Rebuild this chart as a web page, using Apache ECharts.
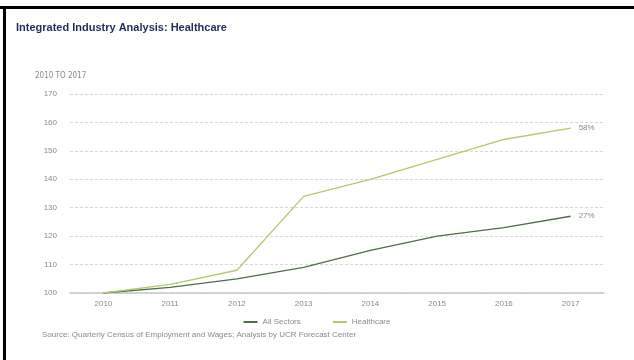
<!DOCTYPE html>
<html>
<head>
<meta charset="utf-8">
<script src="https://cdn.jsdelivr.net/npm/echarts@6/dist/echarts.min.js"></script>
<style>
html,body{margin:0;padding:0;background:#fff;}
#c{width:634px;height:360px;}
</style>
</head>
<body>
<div id="c"></div>
<script>
const years = ['2010','2011','2012','2013','2014','2015','2016','2017'];
const allSectors = [100, 102, 105, 109, 115, 120, 123, 127];
const healthcare = [100, 103, 108, 134, 140, 147, 154, 158];
const endLabels = {allSectors: '27%', healthcare: '58%'};

const chart = echarts.init(document.getElementById('c'));
function endLabel(txt){
  return {show:true, formatter: txt, color:'#8a8a8a', fontSize:8, distance:8, fontFamily:'Liberation Sans'};
}
chart.setOption({
  animation:false,
  backgroundColor:'#fff',
  title:[{
    text:'Integrated Industry Analysis: Healthcare',
    left:16, top:22, padding:0,
    textStyle:{color:'#1f2d5c', fontSize:11, fontWeight:'bold', fontFamily:'Liberation Sans'}
  },{
    text:'2010 TO 2017',
    left:35, top:72, padding:0,
    textStyle:{color:'#8a8a8a', fontSize:8, fontWeight:'normal', fontFamily:'"DejaVu Sans Condensed","Liberation Sans",sans-serif'}
  },{
    text:'Source: Quarterly Census of Employment and Wages; Analysis by UCR Forecast Center',
    left:42, top:331, padding:0,
    textStyle:{color:'#8a8a8a', fontSize:8, fontWeight:'normal', fontFamily:'Liberation Sans'}
  }],
  graphic:[
    {type:'rect', shape:{x:0,y:6,width:634,height:3}, style:{fill:'#000'}},
    {type:'rect', shape:{x:3,y:6,width:3,height:354}, style:{fill:'#000'}}
  ],
  legend:{
    top:313, left:'center',
    itemWidth:14, itemHeight:2, itemGap:32,
    icon:'rect',
    textStyle:{color:'#8a8a8a', fontSize:8, fontFamily:'Liberation Sans'},
    data:['All Sectors','Healthcare']
  },
  grid:{left:70, right:30, top:94, bottom:67},
  xAxis:{
    type:'category', data:years, boundaryGap:true,
    axisLine:{show:true, lineStyle:{color:'#c8c8c8', width:1.5}},
    axisTick:{show:false},
    axisLabel:{color:'#8a8a8a', fontSize:8, margin:7, fontFamily:'Liberation Sans'}
  },
  yAxis:{
    type:'value', min:100, max:170, interval:10,
    axisLine:{show:false}, axisTick:{show:false},
    axisLabel:{color:'#8a8a8a', fontSize:8, margin:13, fontFamily:'Liberation Sans'},
    splitLine:{show:true, lineStyle:{color:'#d8d8d8', type:[3,2], width:1}}
  },
  series:[{
    name:'All Sectors', type:'line', data:allSectors, symbol:'none',
    lineStyle:{color:'#4e6e48', width:1.3}, itemStyle:{color:'#4e6e48'},
    endLabel:endLabel(endLabels.allSectors)
  },{
    name:'Healthcare', type:'line', data:healthcare, symbol:'none',
    lineStyle:{color:'#b3c96a', width:1.3}, itemStyle:{color:'#b3c96a'},
    endLabel:endLabel(endLabels.healthcare)
  }]
});
</script>
</body>
</html>
